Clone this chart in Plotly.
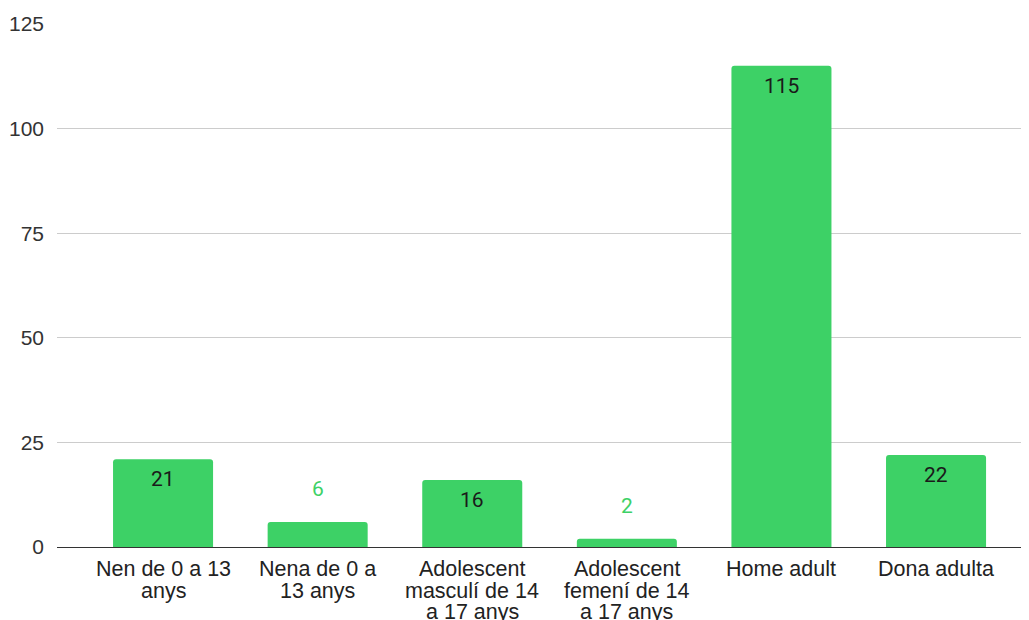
import plotly.graph_objects as go

categories = ["Nen de 0 a 13\nanys", "Nena de 0 a\n13 anys", "Adolescent\nmasculí de 14\na 17 anys",
              "Adolescent\nfemení de 14\na 17 anys", "Home adult", "Dona adulta"]
values = [21, 6, 16, 2, 115, 22]
y_ticks = [0, 25, 50, 75, 100, 125]

GREEN = "#3dd166"
xs = list(range(len(categories)))

fig = go.Figure()
fig.add_trace(go.Bar(
    x=xs, y=values, marker=dict(color=GREEN, cornerradius=3, line=dict(width=0)),
    width=0.647, textposition="none", hoverinfo="skip",
))

# value labels
for x, v in zip(xs, values):
    inside = v >= 10
    fig.add_annotation(
        x=x, y=v, text=str(v), showarrow=False, xref="x", yref="y",
        yanchor="middle", yshift=-20 if inside else 33,
        font=dict(family="Roboto", size=21, color="#1a1a1a" if inside else GREEN),
    )

# category labels (tight line spacing)
for x, label in zip(xs, categories):
    for i, line in enumerate(label.split("\n")):
        fig.add_annotation(
            x=x, y=0, xref="x", yref="paper", text=line, showarrow=False,
            yanchor="middle", yshift=-22 - 21.5 * i,
            font=dict(family="Liberation Sans, Arial", size=21.5, color="#222222"),
        )

fig.update_layout(
    width=1029, height=620,
    margin=dict(l=49, r=0, t=16, b=81),
    plot_bgcolor="white", paper_bgcolor="white",
    showlegend=False,
    font=dict(family="Liberation Sans, Arial", size=21, color="#222222"),
    xaxis=dict(
        tickmode="array", tickvals=xs, ticktext=[""] * len(xs),
        range=[-0.686, 5.653], showgrid=False, ticks="", zeroline=False,
        showline=True, linecolor="#333333", linewidth=1, automargin=False,
    ),
    yaxis=dict(
        range=[0, 125], tickvals=y_ticks, showgrid=True, gridcolor="#cccccc", gridwidth=1,
        zeroline=False, ticks="", ticklabelstandoff=12, automargin=False,
        tickfont=dict(family="Liberation Sans, Arial", size=21, color="#333333"),
    ),
)

fig.write_html("out.html")
